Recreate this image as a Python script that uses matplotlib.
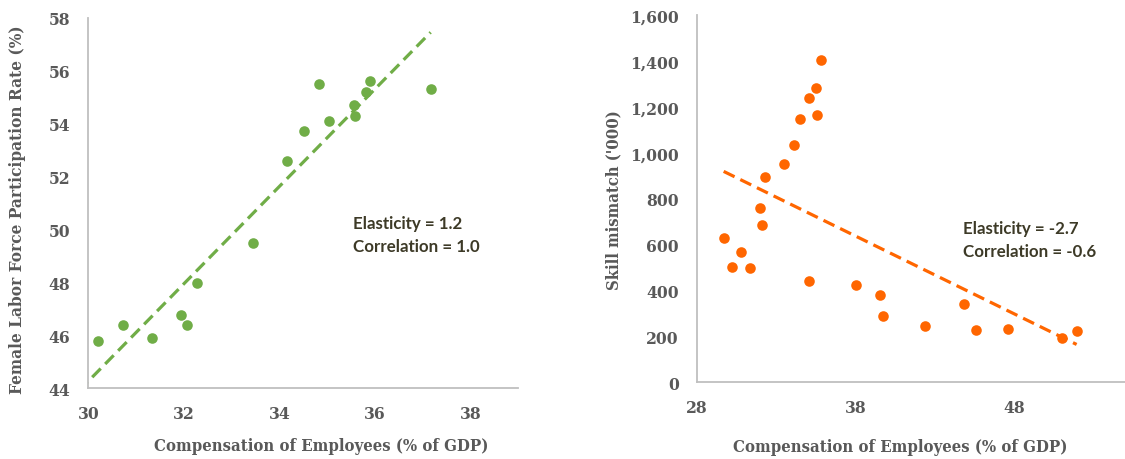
import numpy as np
import matplotlib
matplotlib.use("Agg")
import matplotlib.pyplot as plt
from matplotlib.ticker import FuncFormatter

# ---- data ----
fem_comp = [30.21, 30.72, 31.33, 31.95, 32.06, 32.28, 33.46, 34.16, 34.51, 34.83,
            35.05, 35.57, 35.59, 35.81, 35.91, 37.17]
fem_lfpr = [45.78, 46.38, 45.89, 46.78, 46.38, 47.99, 49.49, 52.59, 53.72, 55.52,
            54.12, 54.71, 54.31, 55.20, 55.62, 55.32]

skill_comp = [29.70, 30.25, 30.77, 31.36, 31.97, 32.09, 32.32, 33.50, 34.15, 34.50,
              35.05, 35.07, 35.55, 35.59, 35.83, 38.07, 39.54, 39.73, 42.38, 44.83,
              45.61, 47.65, 51.00, 51.95]
skill_mis = [627, 504, 569, 499, 758, 685, 896, 951, 1032, 1147,
             1240, 443, 1282, 1166, 1404, 425, 382, 289, 245, 341,
             226, 233, 192, 223]

left_xticks = [30, 32, 34, 36, 38]
left_yticks = [44, 46, 48, 50, 52, 54, 56, 58]
right_xticks = [28, 38, 48]
right_yticks = [0, 200, 400, 600, 800, 1000, 1200, 1400, 1600]

xlabel_text = "Compensation of Employees (% of GDP)"
left_ylabel = "Female Labor Force Participation Rate (%)"
right_ylabel = "Skill mismatch ('000)"
left_note = ["Elasticity = 1.2", "Correlation = 1.0"]
right_note = ["Elasticity = -2.7", "Correlation = -0.6"]

# ---- style ----
GREEN = "#70AD47"
ORANGE = "#FF6600"
GRAY = "#595959"
SPINE = "#BFBFBF"
NOTE = "#3D3A27"

plt.rcParams["font.family"] = ["DejaVu Serif"]
plt.rcParams["font.weight"] = "bold"
plt.rcParams["font.stretch"] = "condensed"

W, H = 1125, 460
fig = plt.figure(figsize=(W / 100, H / 100), dpi=100)


def rect(x0, y0, x1, y1):
    return [x0 / W, 1 - y1 / H, (x1 - x0) / W, (y1 - y0) / H]


def fx(x):
    return x / W


def fy(y):
    return 1 - y / H


ax1 = fig.add_axes(rect(88.3, 19, 518, 389.3))
ax2 = fig.add_axes(rect(696.7, 16, 1125, 383.3))

for ax in (ax1, ax2):
    for s in ("top", "right"):
        ax.spines[s].set_visible(False)
    for s in ("left", "bottom"):
        ax.spines[s].set_color(SPINE)
        ax.spines[s].set_linewidth(1.3)
    ax.tick_params(length=0, labelcolor=GRAY, labelsize=12.5)
    ax.tick_params(axis="y", pad=13)
    ax.tick_params(axis="x", pad=12)

# left panel
fc = np.array(fem_comp)
fl = np.array(fem_lfpr)
ax1.scatter(fc, fl, s=58, color=GREEN, linewidths=0, zorder=3)
k, b = np.polyfit(fc, fl, 1)
xs = np.array([fc.min() - 0.4, fc.max()])
ax1.plot(xs, k * xs + b, color=GREEN, lw=2.3, dashes=(3.8, 2.0), zorder=2)
ax1.set_xlim(30, 39)
ax1.set_ylim(44, 58)
ax1.set_xticks(left_xticks)
ax1.set_yticks(left_yticks)

# right panel
sc = np.array(skill_comp)
sm = np.array(skill_mis)
ax2.scatter(sc, sm, s=58, color=ORANGE, linewidths=0, zorder=3)
k2, b2 = np.polyfit(sc, sm, 1)
xs2 = np.array([sc.min(), sc.max()])
ax2.plot(xs2, k2 * xs2 + b2, color=ORANGE, lw=2.3, dashes=(3.8, 2.0), zorder=2)
ax2.set_xlim(28, 55)
ax2.set_ylim(0, 1600)
ax2.set_xticks(right_xticks)
ax2.set_yticks(right_yticks)
ax2.yaxis.set_major_formatter(FuncFormatter(lambda v, p: f"{int(v):,}"))

# axis titles
t_xl1 = fig.text(fx(321), fy(446.7), xlabel_text, ha="center", va="center",
                 color=GRAY, fontsize=11.5)
t_xl2 = fig.text(fx(900.5), fy(448), xlabel_text, ha="center", va="center",
                 color=GRAY, fontsize=11.5)
t_yl1 = fig.text(fx(18), fy(210), left_ylabel, ha="center", va="center",
                 rotation=90, color=GRAY, fontsize=11.5)
t_yl2 = fig.text(fx(614), fy(200.5), right_ylabel, ha="center", va="center",
                 rotation=90, color=GRAY, fontsize=11.5)

# notes
note_kw = dict(ha="left", va="center", color=NOTE, family="Lato",
               weight="bold", stretch="normal", fontsize=11.5)
n1a = fig.text(fx(352.7), fy(224.3), left_note[0], **note_kw)
n1b = fig.text(fx(352.7), fy(247.3), left_note[1], **note_kw)
n2a = fig.text(fx(962.7), fy(229.3), right_note[0], **note_kw)
n2b = fig.text(fx(962.7), fy(252.3), right_note[1], **note_kw)

# fit text sizes to the reference's measured extents
fig.canvas.draw()
r = fig.canvas.get_renderer()


def fit(t, target, vertical=False):
    bb = t.get_window_extent(r)
    cur = bb.height if vertical else bb.width
    t.set_fontsize(t.get_fontsize() * target / cur)


fit(t_xl1, 335)
fit(t_xl2, 335)
fit(t_yl1, 371, vertical=True)
fit(t_yl2, 181, vertical=True)
fit(n1b, 127)
n1a.set_fontsize(n1b.get_fontsize())
fit(n2b, 133)
n2a.set_fontsize(n2b.get_fontsize())

fig.savefig("out.png", dpi=100)
